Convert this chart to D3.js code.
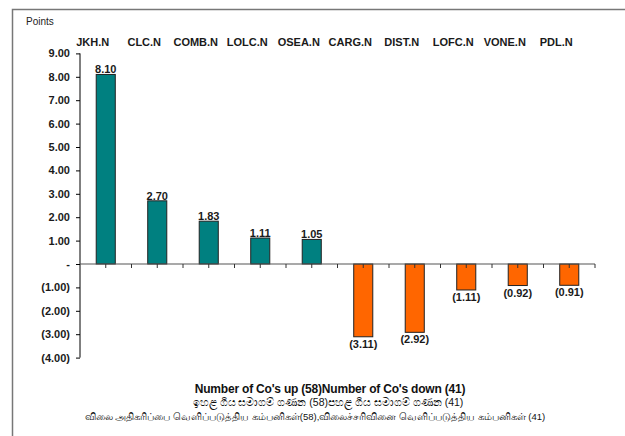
<!DOCTYPE html>
<html><head><meta charset="utf-8">
<script src="https://cdn.jsdelivr.net/npm/d3@7"></script>
<style>body{margin:0;background:#fff;}svg{display:block;}</style>
</head><body><svg id="c" width="625" height="436"></svg>
<script>
const categories = ["JKH.N","CLC.N","COMB.N","LOLC.N","OSEA.N","CARG.N","DIST.N","LOFC.N","VONE.N","PDL.N"];
const values = [8.10, 2.70, 1.83, 1.11, 1.05, -3.11, -2.92, -1.11, -0.92, -0.91];
const yTicks = [9,8,7,6,5,4,3,2,1,0,-1,-2,-3,-4];
const unitLabel = "Points";
const footerLines = [
  "Number of Co's up (58)Number of Co's down  (41)",
  "ඉහළ ගිය සමාගම් ගණන (58)පහළ ගිය සමාගම් ගණන (41)",
  "விலை  அதிகரிப்பை வெளிப்படுத்திய  கம்பனிகள்(58),விலைச்சரிவினை வெளிப்படுத்திய கம்பனிகள் (41)"
];

const svg = d3.select("#c");
const font = "'Liberation Sans', Arial, sans-serif";

// frame
svg.append("path").attr("d","M12.5,440 L12.5,9.5 L630,9.5").attr("fill","none").attr("stroke","#777").attr("stroke-width",1.5);

const x = d3.scaleBand().domain(categories).range([80,595]).paddingInner(0).paddingOuter(0);
const y = d3.scaleLinear().domain([-4,9]).range([357.6,53.4]);
const fmt = v => v===0 ? "-" : (v<0 ? "(" + d3.format(".2f")(-v) + ")" : d3.format(".2f")(v));

// y axis
const ya = svg.append("g").attr("transform","translate(80,0)")
  .call(d3.axisLeft(y).tickValues(yTicks).tickFormat(fmt).tickSize(4).tickPadding(6));
ya.select(".domain").attr("stroke","#000").attr("d","M0,53.4V357.6");
ya.selectAll(".tick line").attr("stroke","#000");
ya.selectAll(".tick text").attr("font-family",font).attr("font-weight","bold").attr("font-size","11px").attr("fill","#1a1a1a");

svg.append("text").attr("x",26).attr("y",25).text(unitLabel)
  .attr("font-family",font).attr("font-size","10px").attr("fill","#222");

// bars
const bw = x.bandwidth()*0.37;
svg.append("g").selectAll("rect").data(values).join("rect")
  .attr("x",(d,i)=>x(categories[i])+x.bandwidth()/2-bw/2)
  .attr("y",d=>y(Math.max(0,d)))
  .attr("width",bw)
  .attr("height",d=>Math.abs(y(d)-y(0)))
  .attr("fill",d=>d>=0?"#008080":"#FF6600")
  .attr("stroke","#222").attr("stroke-width",1);

// zero axis line with ticks
const half = [];
for(let i=0;i<=categories.length*2;i++) half.push(80 + i*x.bandwidth()/2);
const zx = svg.append("g");
zx.append("line").attr("x1",80).attr("x2",595).attr("y1",y(0)).attr("y2",y(0)).attr("stroke","#555").attr("stroke-width",1.2);
zx.selectAll("line.t").data(half.slice(1)).join("line").attr("class","t")
  .attr("x1",d=>d).attr("x2",d=>d).attr("y1",y(0)).attr("y2",y(0)+4).attr("stroke","#333");

// value labels
svg.append("g").selectAll("text").data(values).join("text")
  .attr("x",(d,i)=>x(categories[i])+x.bandwidth()/2)
  .attr("y",d=>d>=0 ? y(d)-1 : y(d)+11)
  .attr("text-anchor","middle")
  .attr("font-family",font).attr("font-weight","bold").attr("font-size","11px").attr("fill","#1a1a1a")
  .text(fmt);

// category labels at top
svg.append("g").selectAll("text").data(categories).join("text")
  .attr("x",d=>x(d)+x.bandwidth()/2-13)
  .attr("y",46)
  .attr("text-anchor","middle")
  .attr("font-family",font).attr("font-weight","bold").attr("font-size","11px").attr("fill","#1a1a1a")
  .text(d=>d);

// footer
svg.append("text").attr("x",330).attr("y",393).attr("text-anchor","middle")
  .attr("font-family",font).attr("font-weight","bold").attr("font-size","12px").attr("letter-spacing","-0.2px").attr("fill","#111")
  .text(footerLines[0]);
svg.append("text").attr("x",328).attr("y",406).attr("text-anchor","middle")
  .attr("font-family",font).attr("font-size","10.5px").attr("fill","#111")
  .text(footerLines[1]);
svg.append("text").attr("x",315).attr("y",420).attr("text-anchor","middle")
  .attr("font-family",font).attr("font-size","9.5px").attr("fill","#111")
  .text(footerLines[2]);
</script></body></html>
